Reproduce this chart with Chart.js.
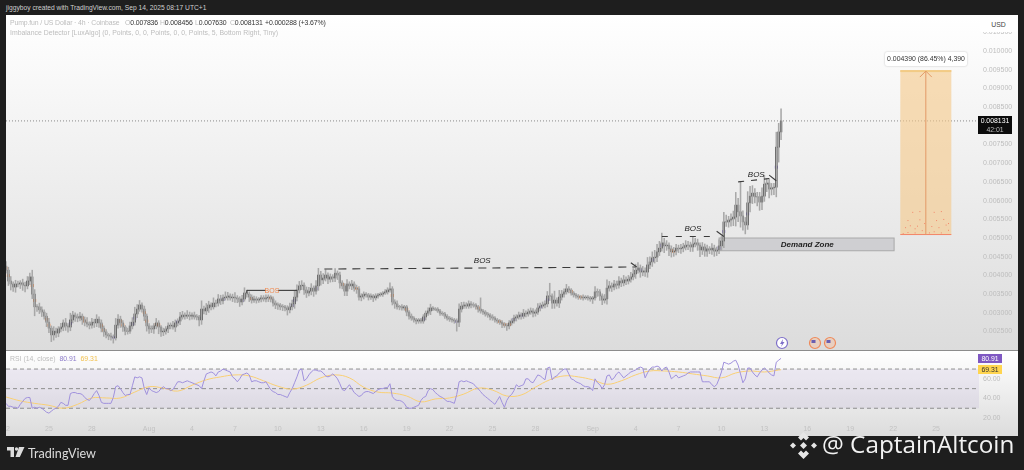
<!DOCTYPE html>
<html>
<head>
<meta charset="utf-8">
<title>Pump.fun / US Dollar</title>
<script src="https://cdn.jsdelivr.net/npm/chart.js@4"></script>
<style>
  html, body { margin: 0; padding: 0; background: #1e1e1e; width: 1024px; height: 470px; overflow: hidden; font-family: "Liberation Sans", sans-serif; }
  .abs { position: absolute; white-space: nowrap; }
  #pricePane, #rsiPane { position: absolute; left: 6px; width: 1012px; background: linear-gradient(#ffffff, #dcdcdc); }
  #pricePane { top: 15px; height: 335px; }
  #rsiPane { top: 351px; height: 85px; }
  #sep { position: absolute; left: 6px; top: 350px; width: 1012px; height: 1px; background: #8c8c8c; }
  canvas { display: block; filter: blur(0.35px); }
  .legend { color: #bdbdbd; font-size: 6.9px; }
  .legend b { color: #333; font-weight: normal; }
  .tight { letter-spacing: -0.12px; }
  .tag { font-size: 6.9px; text-align: center; }
</style>
</head>
<body>
<div class="abs" style="left:6px;top:4px;color:#cfcfcf;font-size:6.7px">jiggyboy created with TradingView.com, Sep 14, 2025 08:17 UTC+1</div>

<div id="pricePane"><canvas id="priceChart" width="1012" height="336"></canvas></div>
<div id="rsiPane"><canvas id="rsiChart" width="1012" height="85"></canvas></div>
<div id="sep"></div>

<div class="abs legend tight" style="left:10px;top:19px">Pump.fun / US Dollar · 4h · Coinbase</div>
<div class="abs legend tight" style="left:125px;top:19px">O<b>0.007836</b></div>
<div class="abs legend tight" style="left:160px;top:19px">H<b>0.008456</b></div>
<div class="abs legend tight" style="left:195px;top:19px">L<b>0.007630</b></div>
<div class="abs legend tight" style="left:230px;top:19px">C<b>0.008131</b></div>
<div class="abs legend tight" style="left:265px;top:19px"><b>+0.000288 (+3.67%)</b></div>
<div class="abs legend" style="left:10px;top:29px">Imbalance Detector [LuxAlgo] (0, Points, 0, 0, Points, 0, 0, Points, 5, Bottom Right, Tiny)</div>
<div class="abs legend" style="left:10px;top:355px">RSI (14, close) &nbsp;<span style="color:#8d7cc9">80.91</span> &nbsp;<span style="color:#f2c14e">69.31</span></div>

<div class="abs tag" style="left:980px;top:18px;width:37px;height:14px;line-height:14px;background:#fff;color:#444;border-radius:2px">USD</div>
<div class="abs tag" style="left:978px;top:116px;width:34px;height:18px;background:#0c0c0c;color:#fff;line-height:9px">0.008131<br><span style="color:#bbb">42:01</span></div>
<div class="abs tag" style="left:978px;top:354px;width:24px;height:9px;line-height:9px;background:#7e57c2;color:#fff">80.91</div>
<div class="abs tag" style="left:978px;top:365px;width:24px;height:9px;line-height:9px;background:#ffd54f;color:#333">69.31</div>
<div class="abs tag" style="left:885px;top:52px;width:82px;height:14px;line-height:14px;background:#fff;color:#333;box-shadow:0 0 2px #bbb;border-radius:2px">0.004390 (86.45%) 4,390</div>

<svg class="abs" style="left:775px;top:336px" width="64" height="15">
  <circle cx="7" cy="7" r="5.5" fill="#fff" stroke="#7e6fc9" stroke-width="1.2"/>
  <path d="M8 3 L5 8 H7 L6 11 L9.5 6 H7.5 Z" fill="#7e6fc9"/>
  <circle cx="40" cy="7" r="5.5" fill="#e8cfc0" stroke="#ef8a5a" stroke-width="1.2"/>
  <rect x="36.5" y="4" width="4" height="3" fill="#6a5fb0"/>
  <circle cx="55" cy="7" r="5.5" fill="#e8cfc0" stroke="#ef8a5a" stroke-width="1.2"/>
  <rect x="51.5" y="4" width="4" height="3" fill="#6a5fb0"/>
</svg>

<svg class="abs" style="left:7px;top:447px" width="18" height="11">
  <path d="M0 0 H7 V10 H3.5 V3.5 H0 Z" fill="#dcdcdc"/>
  <circle cx="9.5" cy="2" r="1.7" fill="#dcdcdc"/>
  <path d="M12 0 H17.5 L12.8 10 H8.5 Z" fill="#dcdcdc"/>
</svg>
<div class="abs" style="left:28px;top:446px;color:#dcdcdc;font:12.6px Lato, sans-serif">TradingView</div>

<svg class="abs" style="left:789px;top:431px;z-index:3" width="29" height="29" viewBox="0 0 29 29" fill="#e6e6e6">
  <path d="M14.5 1 L20 6.5 L17 9.5 L14.5 7 L12 9.5 L9 6.5 Z"/>
  <path d="M14.5 28 L20 22.5 L17 19.5 L14.5 22 L12 19.5 L9 22.5 Z"/>
  <path d="M14.5 11 L18 14.5 L14.5 18 L11 14.5 Z"/>
  <path d="M4 11.5 L7 14.5 L4 17.5 L1 14.5 Z"/>
  <path d="M25 11.5 L28 14.5 L25 17.5 L22 14.5 Z"/>
</svg>
<div class="abs" style="left:822px;top:427px;z-index:3;color:#f2f2f2;font:24.3px 'Open Sans', sans-serif">@ CaptainAltcoin</div>

<script>
// 4h candles from Jul 22 to Sep 14, prices in millionths of a dollar, one row per day
const firstOpen = 4250;
const closes = [
  4140,3850,3770,3690,3770,3770,
  3800,3740,3720,3850,3960,3500,
  3160,3160,3080,3020,2910,2750,
  2590,2410,2510,2460,2570,2620,
  2730,2650,2620,2810,2940,2890,
  2860,2910,2810,2750,2700,2670,
  2750,2730,2830,2730,2590,2490,
  2410,2380,2350,2330,2670,2830,
  2730,2620,2510,2510,2650,2750,
  2970,3100,3210,3100,2910,2650,
  2570,2570,2650,2730,2620,2490,
  2510,2570,2650,2670,2620,2730,
  2780,2890,2940,2910,2940,2910,
  2940,2890,2890,2810,3100,3050,
  3130,3210,3160,3260,3260,3370,
  3320,3400,3420,3450,3400,3420,
  3400,3370,3290,3370,3530,3500,
  3420,3340,3370,3340,3370,3400,
  3370,3400,3420,3370,3260,3210,
  3210,3160,3160,3130,3080,3160,
  3240,3420,3610,3720,3740,3610,
  3530,3580,3660,3580,3720,4010,
  3880,3930,4010,3900,3960,3930,
  4060,4010,3800,3720,3580,3770,
  3720,3770,3660,3640,3420,3450,
  3500,3480,3420,3450,3400,3450,
  3480,3500,3530,3560,3610,3640,
  3290,3240,3160,3160,3130,3160,
  3020,2910,2860,2810,2780,2810,
  2780,2890,2990,3050,3130,3100,
  3100,3050,2990,2970,2910,2860,
  2830,2810,2780,2750,3100,3180,
  3210,3180,3240,3210,3210,3160,
  3100,3050,3020,2970,2940,2890,
  2860,2810,2780,2750,2700,2670,
  2650,2730,2780,2860,2890,2940,
  2910,2990,2970,3020,3050,2990,
  3020,3130,3180,3210,3240,3450,
  3450,3260,3340,3260,3420,3500,
  3560,3640,3610,3530,3480,3450,
  3420,3420,3400,3420,3400,3370,
  3400,3560,3560,3450,3340,3370,
  3660,3720,3690,3770,3740,3850,
  3800,3880,3850,3900,3960,4040,
  4140,4200,4090,4120,4090,4280,
  4360,4470,4490,4630,4730,4870,
  4790,4810,4710,4630,4650,4730,
  4710,4730,4760,4810,4810,4760,
  4840,4870,4810,4680,4760,4650,
  4710,4680,4730,4650,4680,4790,
  4920,5430,5430,5480,5510,5560,
  5880,5700,5590,5430,5350,5940,
  6120,6200,6100,6100,5960,6120,
  6440,6470,6310,6340,6360,7430,
  7836,8131
];
const wickUp = [
  120,80,120,60,100,80,
  60,100,80,120,100,180,
  120,60,100,80,60,80,
  100,60,120,80,60,100,
  80,120,60,180,100,60,
  80,100,60,80,120,60,
  100,80,120,60,80,60,
  60,40,80,60,180,120,
  80,60,40,80,100,120,
  180,120,120,60,80,60,
  60,80,60,120,60,40,
  80,60,80,60,100,80,
  60,120,100,60,120,80,
  60,80,60,40,220,80,
  120,100,60,140,80,120,
  100,80,140,100,60,80,
  120,60,60,100,140,80,
  60,60,80,60,40,60,
  60,80,60,40,60,60,
  60,40,60,40,60,100,
  100,160,140,120,120,60,
  80,100,120,60,140,180,
  100,120,140,60,80,60,
  120,60,80,60,60,120,
  60,100,60,80,60,60,
  60,40,40,60,40,60,
  40,40,40,60,60,160,
  60,60,80,40,60,40,
  40,40,60,40,40,40,
  40,60,60,80,100,40,
  40,40,40,40,40,40,
  40,40,40,60,140,100,
  80,60,80,60,60,40,
  40,300,40,40,40,40,
  60,40,40,40,40,40,
  40,60,60,80,60,80,
  60,100,60,80,80,60,
  60,120,80,80,80,120,
  340,60,240,60,180,100,
  80,120,60,40,40,40,
  40,40,60,40,40,40,
  40,140,80,60,60,120,
  220,120,80,100,80,120,
  80,120,80,100,120,140,
  160,140,80,120,80,200,
  140,160,180,200,180,260,
  120,120,60,80,100,100,
  80,100,100,120,100,80,
  180,120,100,60,120,80,
  100,60,120,80,80,160,
  120,260,180,100,140,160,
  340,180,800,140,120,300,
  260,200,120,120,120,220,
  240,120,120,120,100,400,
  230,325
];
const wickDown = [
  80,120,160,120,140,80,
  120,140,160,80,100,120,
  240,120,100,120,80,120,
  120,180,140,120,100,80,
  100,120,140,100,80,120,
  100,80,120,100,80,100,
  80,120,100,120,100,120,
  80,100,80,140,60,80,
  120,120,100,80,60,80,
  80,100,60,80,120,140,
  120,100,120,80,180,120,
  100,80,100,80,60,120,
  80,100,60,80,60,100,
  80,60,80,160,120,80,
  100,120,80,60,100,80,
  100,80,60,80,60,100,
  120,100,120,80,60,80,
  120,80,60,80,60,80,
  60,80,100,80,80,100,
  120,80,100,80,140,80,
  80,120,100,80,100,120,
  120,80,100,140,80,120,
  140,100,80,120,80,100,
  100,120,140,80,120,120,
  80,100,80,120,80,100,
  80,60,80,60,100,60,
  60,40,60,40,60,60,
  80,120,60,80,60,60,
  100,80,60,60,80,60,
  60,60,80,60,100,40,
  40,40,60,40,60,60,
  60,60,60,240,120,80,
  60,60,60,80,60,60,
  80,60,60,60,60,80,
  60,60,60,60,100,60,
  120,80,60,60,80,60,
  80,60,80,60,60,100,
  80,60,80,60,80,80,
  120,140,140,80,120,80,
  80,60,80,60,60,60,
  60,60,60,40,60,60,
  120,60,120,120,120,80,
  140,80,120,80,100,80,
  100,80,100,80,80,80,
  120,80,140,100,120,140,
  100,120,140,120,100,80,
  180,120,180,140,120,100,
  100,120,100,80,120,120,
  120,80,140,180,120,140,
  140,100,120,140,120,100,
  120,180,120,140,160,180,
  240,260,300,220,240,120,
  240,200,160,240,220,200,
  140,200,240,160,180,260,
  400,206
];
const rsiValues = [
  35,32,32,31,31,30,
  34,37,40,41,41,30,
  31,30,31,30,28,26,
  25,27,29,30,32,36,
  35,33,33,45,46,46,
  45,45,44,41,39,38,
  41,45,48,43,36,35,
  35,35,35,41,52,53,
  50,46,43,44,44,53,
  62,61,62,61,50,44,
  51,48,47,46,47,50,
  52,50,50,48,49,53,
  57,57,56,57,58,57,
  56,55,54,53,50,58,
  65,66,67,66,63,67,
  68,70,69,68,67,62,
  60,57,60,64,65,66,
  64,57,58,58,57,56,
  56,57,53,49,47,46,
  44,44,43,42,41,46,
  50,56,62,69,70,58,
  60,64,67,69,69,68,
  68,66,63,62,63,65,
  63,60,55,49,48,51,
  54,50,46,44,42,43,
  46,47,47,46,45,47,
  49,50,50,51,51,55,
  42,39,38,38,37,35,
  31,30,30,31,32,33,
  38,41,42,48,50,49,
  46,44,42,41,39,37,
  37,36,35,44,57,58,
  57,58,57,56,55,52,
  50,47,44,42,40,38,
  36,34,38,42,36,31,
  38,42,44,48,54,52,
  53,54,60,60,57,56,
  60,64,63,61,59,71,
  72,59,62,63,66,68,
  70,70,65,60,59,57,
  56,55,53,52,52,51,
  48,60,56,54,50,54,
  63,64,59,61,65,67,
  64,61,63,65,67,68,
  69,71,72,71,61,66,
  70,72,72,73,72,68,
  71,72,67,60,62,64,
  61,62,63,64,66,67,
  67,67,67,67,57,57,
  57,57,54,52,54,60,
  67,77,76,75,76,78,
  79,74,65,56,60,71,
  71,67,64,62,66,69,
  71,69,66,64,63,77,
  79,80.91
];
// rsi average read once a day, the last value is the last candle
const maValues = [
  41.5,37.5,35,33,30,34,40.5,40.5,40.5,46.5,52,50.5,47.5,53.5,
  59,62,64,63,58,52.5,49.5,53.5,61,64,61,51.5,46.5,45.5,
  42.5,36.5,39.5,40.5,44.5,50.5,48.5,42.5,43.5,51.5,59,63,
  62,59,54.5,58,64,68,68,67,65,63,61,66,68,67,69,69.31
];

const priceTicks = [10500,10000,9500,9000,8500,7500,7000,6500,6000,5500,5000,4500,4000,3500,3000,2500];
const rsiTicks = [60,40,20];
const tickSlots = [0,18,36,60,78,96,114,132,150,168,186,204,222,246,264,282,300,318,336,354,372,390];
const tickNames = ['22','25','28','Aug','4','7','10','13','16','19','22','25','28','Sep','4','7','10','13','16','19','22','25'];
const orangeSlots = [0,1,11,12,17,18,32,33,40,41,48,49,58,59,63,64,103,111,141,147,162,168,198,207,209,211,237,241,279,280];
const purpleSlots = [27,45,53,54,72,91,99,120,121,130,175,189,213,216,224,227,266,271,275,299,301,311,323];

const lastPrice = 8131;
const slotCount = 408;
const measureBox = { from: 375, to: 396.4, top: 9490, bottom: 5080 };
const measureDots = [
  [378,5160],[381,5150],[384,5210],[379,5340],[382,5330],[378,5480],[383,5500],[380,5700],[383,5720],
  [377,5290],[381,5260],[385,5400],[389,5180],[392,5150],[395,5220],[388,5320],[391,5290],[394,5360],
  [390,5480],[393,5510],[389,5700],[392,5720],[395,5400],[387,5150],[376,5130]
];
const demandZone = { from: 299, to: 372.4, top: 5000, bottom: 4660 };

Chart.defaults.font.family = '"Liberation Sans", sans-serif';
Chart.defaults.animation = false;

const opens = closes.map((c, i) => i === 0 ? firstOpen : closes[i - 1]);
const bodyMid = i => (opens[i] + closes[i]) / 2;

// everything drawn around the candles, placed in slot / price units
const priceOverlays = {
  id: 'priceOverlays',
  beforeDatasetsDraw(chart) {
    const { ctx, scales: { x, y }, chartArea } = chart;
    ctx.save();
    ctx.setLineDash([1, 2]);
    ctx.strokeStyle = '#8a8a8a';
    ctx.beginPath();
    ctx.moveTo(chartArea.left, y.getPixelForValue(lastPrice));
    ctx.lineTo(chartArea.right, y.getPixelForValue(lastPrice));
    ctx.stroke();
    ctx.setLineDash([]);

    // demand zone
    const zx = x.getPixelForValue(demandZone.from), zy = y.getPixelForValue(demandZone.top);
    const zw = x.getPixelForValue(demandZone.to) - zx, zh = y.getPixelForValue(demandZone.bottom) - zy;
    ctx.fillStyle = '#cfcfd2';
    ctx.strokeStyle = '#a9a9a9';
    ctx.fillRect(zx, zy, zw, zh);
    ctx.strokeRect(zx, zy, zw, zh);

    // measure tool
    const m = measureBox;
    const mx = x.getPixelForValue(m.from), mr = x.getPixelForValue(m.to);
    const mt = y.getPixelForValue(m.top), mb = y.getPixelForValue(m.bottom);
    ctx.fillStyle = 'rgba(245, 200, 135, 0.6)';
    ctx.fillRect(mx, mt, mr - mx, mb - mt);
    ctx.fillStyle = '#f2cb85';
    ctx.fillRect(mx, mt, mr - mx, 2);
    ctx.fillStyle = '#f3876b';
    ctx.fillRect(mx, mb - 1, mr - mx, 1);
    measureDots.forEach(d => {
      ctx.fillRect(x.getPixelForValue(d[0]), y.getPixelForValue(d[1]), 1, 1);
    });
    const mc = (mx + mr) / 2;
    ctx.strokeStyle = '#e29a66';
    ctx.beginPath();
    ctx.moveTo(mc, mb);
    ctx.lineTo(mc, mt + 1);
    ctx.moveTo(mc - 6, mt + 7);
    ctx.lineTo(mc, mt + 1);
    ctx.lineTo(mc + 6, mt + 7);
    ctx.stroke();
    ctx.restore();
  },
  afterDatasetsDraw(chart) {
    const { ctx, scales: { x, y } } = chart;
    const seg = (a, b, dash) => {
      ctx.setLineDash(dash || []);
      ctx.beginPath();
      ctx.moveTo(x.getPixelForValue(a[0]), y.getPixelForValue(a[1]));
      ctx.lineTo(x.getPixelForValue(b[0]), y.getPixelForValue(b[1]));
      ctx.stroke();
      ctx.setLineDash([]);
    };
    const label = (text, slot, price, font, color) => {
      ctx.font = font;
      ctx.fillStyle = color;
      ctx.textAlign = 'center';
      ctx.textBaseline = 'middle';
      ctx.fillText(text, x.getPixelForValue(slot), y.getPixelForValue(price));
    };
    ctx.save();
    ctx.strokeStyle = '#3a3a3a';
    ctx.lineWidth = 1.1;

    // small BOS with solid line
    seg([101, 3600], [109, 3600]);
    seg([114, 3600], [122, 3600]);
    seg([101, 3600], [101, 3520]);
    label('BOS', 111.5, 3590, '7px "Liberation Sans"', '#f08a50');

    // long BOS
    seg([133.5, 4170], [264, 4225], [8, 6]);
    seg([262, 4340], [264.5, 4225]);
    label('BOS', 199.7, 4385, 'italic 8px "Liberation Sans"', '#222');

    seg([275, 5040], [298, 5040], [6, 8]);
    seg([298, 5180], [301, 5040]);
    label('BOS', 288, 5240, 'italic 8px "Liberation Sans"', '#222');

    seg([307, 6500], [320, 6590], [6, 7]);
    seg([320, 6680], [323, 6530]);
    label('BOS', 314.6, 6680, 'italic 8px "Liberation Sans"', '#222');

    label('Demand Zone', 336, 4830, 'italic bold 8px "Liberation Sans"', '#222');
    ctx.restore();
  }
};

new Chart(document.getElementById('priceChart'), {
  type: 'bar',
  plugins: [priceOverlays],
  data: {
    datasets: [
      {
        label: 'wicks',
        data: closes.map((c, i) => ({ x: i, y: [Math.min(opens[i], c) - wickDown[i], Math.max(opens[i], c) + wickUp[i]] })),
        barThickness: 0.9,
        backgroundColor: '#a8a8a8'
      },
      {
        label: 'bodies',
        data: closes.map((c, i) => ({ x: i, y: [opens[i], c] })),
        barThickness: 1.6,
        backgroundColor: closes.map((c, i) => c >= opens[i] ? '#111111' : '#5e5e5e')
      },
      {
        label: 'imbalance orange',
        data: orangeSlots.map(i => ({ x: i, y: [bodyMid(i) - 30, bodyMid(i) + 30] })),
        barThickness: 2.6,
        backgroundColor: 'rgba(244, 150, 90, 0.75)'
      },
      {
        label: 'imbalance purple',
        data: purpleSlots.map(i => ({ x: i, y: [bodyMid(i) - 30, bodyMid(i) + 30] })),
        barThickness: 2.6,
        backgroundColor: 'rgba(140, 120, 215, 0.6)'
      }
    ]
  },
  options: {
    responsive: false,
    layout: { padding: 0 },
    plugins: { legend: { display: false }, tooltip: { enabled: false } },
    datasets: { bar: { grouped: false } },
    scales: {
      x: { type: 'linear', min: 0, max: slotCount, offset: false, display: false },
      y: {
        position: 'right',
        min: 1979,
        max: 10963,
        grid: { display: false, drawTicks: false },
        border: { display: false },
        afterBuildTicks: s => { s.ticks = priceTicks.map(v => ({ value: v })); },
        afterFit: s => { s.width = 39; s.paddingTop = 0; s.paddingBottom = 0; },
        ticks: {
          color: '#bdbdbd',
          padding: 4,
          font: { size: 7 },
          callback: v => (v / 1e6).toFixed(6)
        }
      }
    }
  }
});

// rsi band and dashed levels
const rsiBand = {
  id: 'rsiBand',
  beforeDatasetsDraw(chart) {
    const { ctx, scales: { y }, chartArea } = chart;
    ctx.save();
    ctx.fillStyle = 'rgba(126, 87, 194, 0.09)';
    ctx.fillRect(chartArea.left, y.getPixelForValue(70), chartArea.width, y.getPixelForValue(30) - y.getPixelForValue(70));
    ctx.strokeStyle = '#8f8f8f';
    ctx.setLineDash([4, 3]);
    [70, 50, 30].forEach(level => {
      ctx.beginPath();
      ctx.moveTo(chartArea.left, y.getPixelForValue(level));
      ctx.lineTo(chartArea.right, y.getPixelForValue(level));
      ctx.stroke();
    });
    ctx.restore();
  }
};

new Chart(document.getElementById('rsiChart'), {
  type: 'line',
  plugins: [rsiBand],
  data: {
    datasets: [
      {
        label: 'RSI',
        data: rsiValues.map((v, i) => ({ x: i, y: v })),
        borderColor: '#9f90dc',
        borderWidth: 1,
        pointRadius: 0,
        tension: 0
      },
      {
        label: 'RSI average',
        data: maValues.map((v, i) => ({ x: Math.min(i * 6, closes.length - 1), y: v })),
        borderColor: '#f9cf73',
        borderWidth: 1,
        pointRadius: 0,
        tension: 0.4
      }
    ]
  },
  options: {
    responsive: false,
    layout: { padding: 0 },
    plugins: { legend: { display: false }, tooltip: { enabled: false } },
    scales: {
      x: {
        type: 'linear',
        min: 0,
        max: slotCount,
        grid: { display: false, drawTicks: false },
        border: { display: false },
        afterBuildTicks: s => { s.ticks = tickSlots.map(v => ({ value: v })); },
        afterFit: s => { s.height = 15; s.paddingLeft = 0; s.paddingRight = 0; },
        ticks: {
          autoSkip: false,
          maxRotation: 0,
          color: '#c2c2c2',
          padding: 4,
          font: { size: 7 },
          callback: v => tickNames[tickSlots.indexOf(v)]
        }
      },
      y: {
        position: 'right',
        min: 17,
        max: 88.4,
        grid: { display: false, drawTicks: false },
        border: { display: false },
        afterBuildTicks: s => { s.ticks = rsiTicks.map(v => ({ value: v })); },
        afterFit: s => { s.width = 39; s.paddingTop = 0; s.paddingBottom = 0; },
        ticks: {
          color: '#bdbdbd',
          padding: 4,
          font: { size: 7 },
          callback: v => v.toFixed(2)
        }
      }
    }
  }
});
</script>
</body>
</html>
